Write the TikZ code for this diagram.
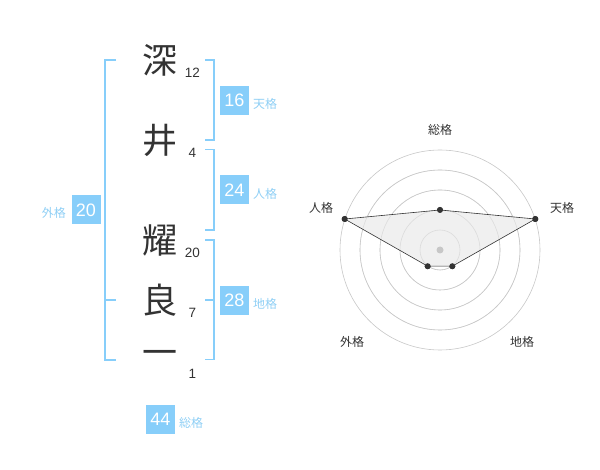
\documentclass[tikz,border=0pt]{standalone}
\usepackage{fontspec}
\setmainfont{Liberation Sans}
\newfontfamily\jp{Noto Sans CJK JP}
\begin{document}
\begin{tikzpicture}[x=1pt,y=-1pt,
  kanji/.style={font=\jp\fontsize{35}{35}\selectfont, text=black!80, inner sep=0pt},
  strokes/.style={font=\fontsize{13.5}{13.5}\selectfont, text=black!80, inner sep=0pt},
  bx/.style={fill=skyblue, text=white, minimum width=29pt, minimum height=29pt, inner sep=0pt, font=\fontsize{18}{18}\selectfont},
  lbl/.style={text=skylbl, font=\jp\fontsize{12}{12}\selectfont, inner sep=0pt},
  brk/.style={draw=skyblue, line width=1.6pt},
  rlbl/.style={text=black!80, font=\jp\fontsize{12}{12}\selectfont, inner sep=0pt},
  ring/.style={draw=black!22, line width=0.6pt},
  pt/.style={circle, fill=black!80, inner sep=0pt, minimum size=6pt}]
\definecolor{skyblue}{HTML}{87CEFA}
\definecolor{skylbl}{HTML}{8FCFF5}
\useasboundingbox (0,0) rectangle (600,470);
% kanji
\node[kanji] (k1) at (160,60) {深};
\node[kanji] (k2) at (160,140) {井};
\node[kanji] (k3) at (160,240) {耀};
\node[kanji] (k4) at (160,300) {良};
\node[kanji] (k5) at (160,358) {一};
\node[strokes] (s1) at (192.5,73) {12};
\node[strokes] (s2) at (192.5,153) {4};
\node[strokes] (s3) at (192.5,253) {20};
\node[strokes] (s4) at (192.5,313) {7};
\node[strokes] (s5) at (192.5,373.5) {1};
% brackets
\draw[brk] (116,60) -- (105,60) -- (105,360) -- (116,360);
\draw[brk] (105,300) -- (116,300);
\draw[brk] (205,60) -- (214,60) -- (214,140) -- (205,140);
\draw[brk] (205,149.5) -- (214,149.5) -- (214,230) -- (205,230);
\draw[brk] (205,240) -- (214,240) -- (214,359.5) -- (205,359.5);
\draw[brk] (205,300) -- (214,300);
% boxes
\node[bx] (b1) at (234.5,100.5) {16};
\node[lbl,anchor=west] (l1) at (253,103.5) {天格};
\node[bx] (b2) at (234.5,190) {24};
\node[lbl,anchor=west] (l2) at (253,193.5) {人格};
\node[bx] (b3) at (234.5,300.5) {28};
\node[lbl,anchor=west] (l3) at (253,303.5) {地格};
\node[bx] (b4) at (86,210) {20};
\node[lbl,anchor=east] (l4) at (66,213) {外格};
\node[bx] (b5) at (160.5,419) {44};
\node[lbl,anchor=west] (l5) at (179,422.5) {総格};
% radar
\coordinate (c) at (440,250);
\foreach \r in {20,40,60,80,100} \draw[ring] (c) circle (\r);
\node[pt] (p1) at (440,210) {};
\node[pt] (p2) at (535.3,219) {};
\node[pt] (p3) at (452.3,266.2) {};
\node[pt] (p4) at (427.7,266.2) {};
\node[pt] (p5) at (344.7,219) {};
\fill[black!6] (p1.center) -- (p2.center) -- (p3.center) -- (p4.center) -- (p5.center) -- cycle;
\foreach \r in {20,40,60,80} \draw[ring, opacity=0.5] (c) circle (\r);
\draw[black!80, line width=0.6pt] (p1.center) -- (p2.center) -- (p3.center) -- (p4.center) -- (p5.center) -- cycle;
\foreach \p in {p1,p2,p3,p4,p5} \fill[black!80] (\p) circle (3);
\fill[black!22] (c) circle (3.5);
\node[rlbl] (r1) at (440,130) {総格};
\node[rlbl] (r2) at (562,208) {天格};
\node[rlbl] (r3) at (522,342) {地格};
\node[rlbl] (r4) at (352,342) {外格};
\node[rlbl] (r5) at (321,208) {人格};
\end{tikzpicture}
\end{document}
